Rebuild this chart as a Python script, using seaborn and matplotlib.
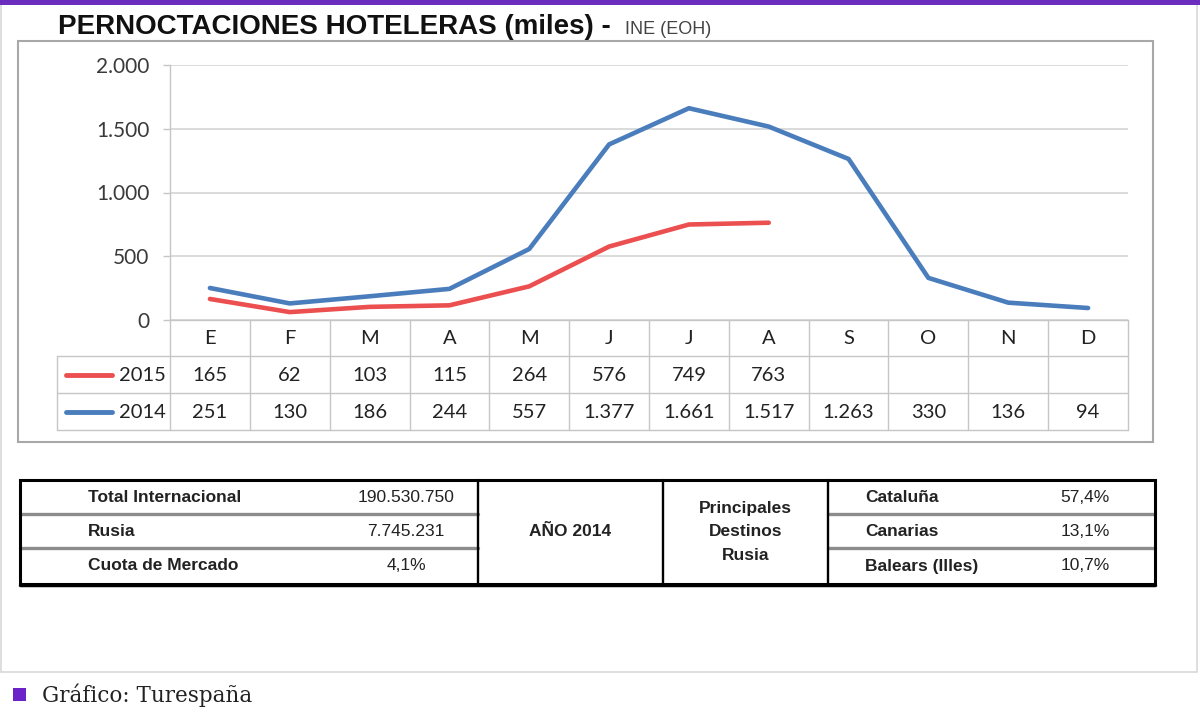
import numpy as np
import pandas as pd
import matplotlib
matplotlib.use("Agg")
import matplotlib.pyplot as plt
import seaborn as sns
from matplotlib.transforms import blended_transform_factory
from matplotlib.patches import Rectangle
from matplotlib.ticker import FuncFormatter

# ---------------- data ----------------
months = ["E", "F", "M", "A", "M", "J", "J", "A", "S", "O", "N", "D"]
values_2015 = [165, 62, 103, 115, 264, 576, 749, 763, np.nan, np.nan, np.nan, np.nan]
values_2014 = [251, 130, 186, 244, 557, 1377, 1661, 1517, 1263, 330, 136, 94]
series_names = ["2015", "2014"]
y_ticks = [0, 500, 1000, 1500, 2000]

title_main = "PERNOCTACIONES HOTELERAS (miles) -"
title_source = "INE (EOH)"

summary_labels = ["Total Internacional", "Rusia", "Cuota de Mercado"]
summary_values = ["190.530.750", "7.745.231", "4,1%"]
year_label = "AÑO 2014"
dest_header = "Principales\nDestinos\nRusia"
dest_names = ["Cataluña", "Canarias", "Balears (Illes)"]
dest_shares = ["57,4%", "13,1%", "10,7%"]
footer = "Gráfico: Turespaña"

# ---------------- style ----------------
sns.set_theme(style="white")
plt.rcParams["font.family"] = ["Lato", "DejaVu Sans"]

RED = "#ec4f4f"
BLUE = "#4a7dbb"
GRID = "#d4d4d4"
TABLE = "#c6c6c6"
TXT = "#222222"

W, H = 1200, 726
fig = plt.figure(figsize=(12, 7.26), dpi=100)
fig.patch.set_facecolor("white")

over = fig.add_axes([0, 0, 1, 1], zorder=0)
over.set_xlim(0, W)
over.set_ylim(H, 0)
over.axis("off")

L, R, T, B = 170, 1128, 65, 320
ax = fig.add_axes([L / W, 1 - B / H, (R - L) / W, (B - T) / H], zorder=2)
ax.patch.set_alpha(0)

df = pd.DataFrame({
    "idx": list(range(len(months))) * 2,
    "value": list(values_2015) + list(values_2014),
    "year": [series_names[0]] * len(months) + [series_names[1]] * len(months),
})
sns.lineplot(data=df, x="idx", y="value", hue="year",
             palette={"2015": RED, "2014": BLUE}, linewidth=3.3,
             legend=False, ax=ax, sort=False)

ax.set_xlim(-0.5, len(months) - 0.5)
ax.set_ylim(y_ticks[0], y_ticks[-1])
ax.set_yticks(y_ticks)
ax.yaxis.set_major_formatter(FuncFormatter(lambda v, p: f"{int(v):,}".replace(",", ".")))
ax.set_xticks([])
ax.set_xlabel("")
ax.set_ylabel("")
ax.grid(axis="y", color=GRID, lw=1.2)
ax.grid(axis="x", visible=False)
for s in ["top", "right"]:
    ax.spines[s].set_visible(False)
ax.spines["left"].set_color(TABLE)
ax.spines["bottom"].set_color(TABLE)
ax.spines["left"].set_linewidth(1)
ax.spines["bottom"].set_linewidth(1)
ax.tick_params(axis="y", left=True, length=5, width=1, color=TABLE,
               labelsize=15, labelcolor="#3a3a3a", pad=10)

# ---------------- data table under the chart ----------------
tr = blended_transform_factory(ax.transData, over.transData)
row_month, row_a, row_b, row_end = 320, 356, 393, 430
leg_left = 57
for b in np.arange(-0.5, len(months)):
    ax.plot([b, b], [row_month, row_end], transform=tr, clip_on=False, color=TABLE, lw=1)
over.plot([leg_left, leg_left], [row_a, row_end], color=TABLE, lw=1)
for yy in [row_a, row_b, row_end]:
    over.plot([leg_left, R], [yy, yy], color=TABLE, lw=1)

def fmt(v):
    if v is None or (isinstance(v, float) and np.isnan(v)):
        return ""
    return f"{int(v):,}".replace(",", ".")

for i, m in enumerate(months):
    ax.text(i, (row_month + row_a) / 2 + 1, m, transform=tr, ha="center", va="center",
            fontsize=14.5, color=TXT, clip_on=False)
    ax.text(i, (row_a + row_b) / 2 + 1, fmt(values_2015[i]), transform=tr, ha="center",
            va="center", fontsize=14.5, color=TXT, clip_on=False)
    ax.text(i, (row_b + row_end) / 2 + 1, fmt(values_2014[i]), transform=tr, ha="center",
            va="center", fontsize=14.5, color=TXT, clip_on=False)

for name, col, (y0, y1) in [(series_names[0], RED, (row_a, row_b)),
                            (series_names[1], BLUE, (row_b, row_end))]:
    yc = (y0 + y1) / 2
    over.plot([66, 112], [yc, yc], color=col, lw=3.5, solid_capstyle="round")
    over.text(166, yc + 1, name, ha="right", va="center", fontsize=14.5, color=TXT)

# chart frame
over.add_patch(Rectangle((18, 41), 1135, 401, fill=False, ec="#a8a8a8", lw=1.5))

# ---------------- title ----------------
fam = ["Liberation Sans", "DejaVu Sans"]
t = over.text(58, 34, title_main, ha="left", va="baseline", fontsize=20,
              fontweight="bold", family=fam, color="#111111")
fig.canvas.draw()
bb = t.get_window_extent(renderer=fig.canvas.get_renderer())
over.text(bb.x1 + 14, 34, title_source, ha="left", va="baseline", fontsize=13,
          family=fam, color="#444444")

# ---------------- summary table ----------------
tx0, tx1, ty0, ty1 = 20, 1155, 480, 584
c1, c2, c3 = 478, 663, 828
rs = [ty0, 514, 548, ty1]
over.add_patch(Rectangle((tx0, ty0), tx1 - tx0, ty1 - ty0, fill=False, ec="black", lw=2.2, zorder=3))
over.plot([tx0, tx1], [ty1 + 1, ty1 + 1], color="black", lw=2.5, zorder=3)
for cx in [c1, c2, c3]:
    over.plot([cx, cx], [ty0, ty1], color="black", lw=1.7, zorder=3)
for yy in rs[1:3]:
    over.plot([tx0, c1], [yy, yy], color="#8c8c8c", lw=2.4)
    over.plot([c3, tx1], [yy, yy], color="#8c8c8c", lw=2.4)

for k in range(3):
    yc = (rs[k] + rs[k + 1]) / 2
    over.text(88, yc, summary_labels[k], ha="left", va="center", fontsize=12.5,
              fontweight="bold", family=fam, color=TXT)
    over.text(406, yc, summary_values[k], ha="center", va="center", fontsize=12.5,
              family=fam, color=TXT)
    over.text(865, yc, dest_names[k], ha="left", va="center", fontsize=12.5,
              fontweight="bold", family=fam, color=TXT)
    over.text(1085, yc, dest_shares[k], ha="center", va="center", fontsize=12.5,
              family=fam, color=TXT)
over.text((c1 + c2) / 2, (ty0 + ty1) / 2, year_label, ha="center", va="center",
          fontsize=12.5, fontweight="bold", family=fam, color=TXT)
over.text((c2 + c3) / 2, (ty0 + ty1) / 2, dest_header, ha="center", va="center",
          fontsize=12.5, fontweight="bold", family=fam, color=TXT, linespacing=1.7)

# ---------------- page decorations ----------------
over.add_patch(Rectangle((0.5, 4), 1196.5, 668, fill=False, ec="#d8d8d8", lw=1.2))
over.add_patch(Rectangle((0, 0), W, 4.5, fc="#6a2dbd", ec="none"))
over.add_patch(Rectangle((13, 688), 13, 13, fc="#6c22c9", ec="none"))
over.text(42, 695, footer, ha="left", va="center", fontsize=15.5,
          family=["DejaVu Serif"], color="#222222")

fig.savefig("out.png", dpi=100)
